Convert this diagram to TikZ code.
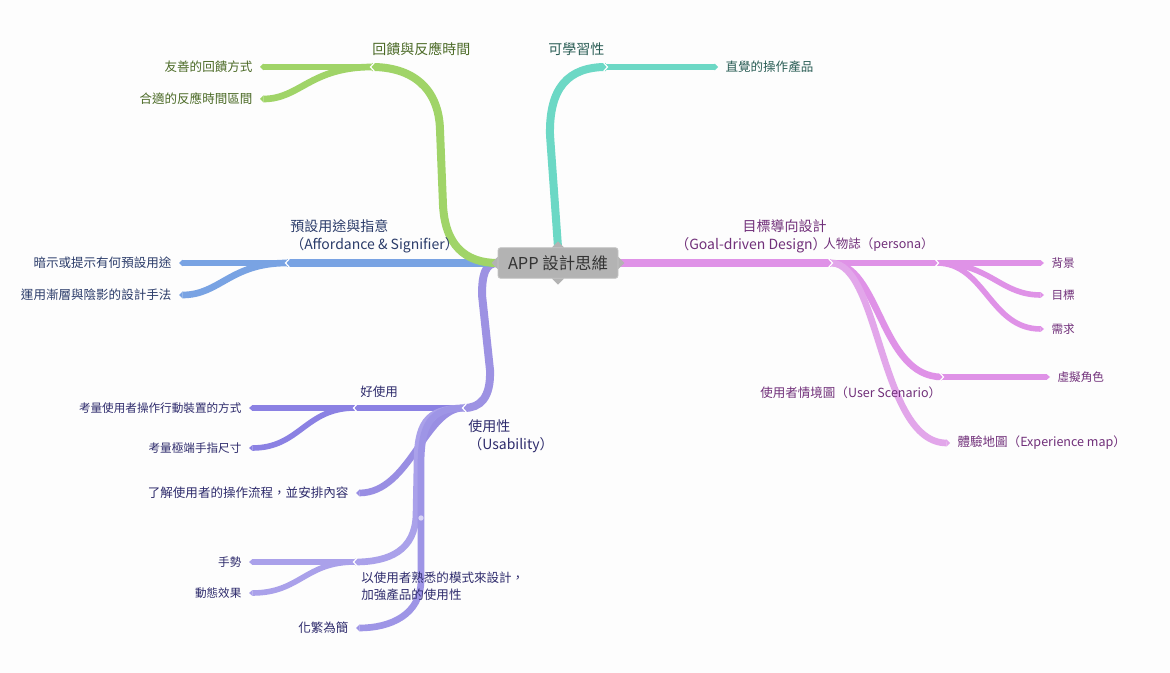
\documentclass[tikz,border=0pt]{standalone}
\usepackage{fontspec}
\newfontfamily\cjk{Noto Sans CJK TC}
\usetikzlibrary{arrows.meta}
\definecolor{bgc}{HTML}{FDFDFD}
\definecolor{rootc}{HTML}{B3B3B3}
\definecolor{rootline}{HTML}{C6C6C6}
\definecolor{greenc}{HTML}{A0D468}
\definecolor{tealc}{HTML}{6CD8C5}
\definecolor{bluec}{HTML}{79A3E3}
\definecolor{purpa}{HTML}{9D92E3}
\definecolor{purpb}{HTML}{8B81E3}
\definecolor{purpc}{HTML}{998EE3}
\definecolor{purpd}{HTML}{AAA1EA}
\definecolor{purpe}{HTML}{9E95E6}
\definecolor{pinka}{HTML}{DF92E7}
\definecolor{pinkb}{HTML}{E2A6EA}
\definecolor{greent}{HTML}{4B6A26}
\definecolor{tealt}{HTML}{2B5E56}
\definecolor{bluet}{HTML}{2B3C6A}
\definecolor{purpt}{HTML}{2E2B6C}
\definecolor{pinkt}{HTML}{71307A}
\pgfdeclarelayer{bg}
\pgfsetlayers{bg,main}

\tikzset{
  root/.style={fill=rootc, draw=rootline, line width=0.6pt, rounded corners=2pt,
    minimum width=90pt, minimum height=23pt, inner sep=0pt, text=black!80,
    font=\cjk\fontsize{12.3}{14}\selectfont},
  lbl/.style={inner sep=0pt, anchor=west, font=\cjk\fontsize{10.5}{13.5}\selectfont},
  sublbl/.style={lbl, font=\cjk\fontsize{9.4}{12.8}\selectfont},
  leafl/.style={anchor=east, inner ysep=0pt, inner xsep=5.5pt, font=\cjk\fontsize{9.4}{12.8}\selectfont},
  leafr/.style={leafl, anchor=west},
  tinyl/.style={leafl, font=\cjk\fontsize{8.7}{12}\selectfont},
  tinyr/.style={tinyl, anchor=west},
  stem/.style={line width=6pt},
  limb/.style={line width=5pt},
  twig/.style={line width=4.2pt},
  leafend/.style={-{Triangle[length=2.5pt, width=0pt 1, line width=0pt]}},
  notchl/.pic={\draw[white, line width=0.9pt] (2.5,-4.5) -- (-1.5,0) -- (2.5,4.5);},
  notchr/.pic={\draw[white, line width=0.9pt] (-2.5,-4.5) -- (1.5,0) -- (-2.5,4.5);}
}

\begin{document}
\begin{tikzpicture}[x=0.75pt, y=-0.75pt]
\useasboundingbox (0,0) rectangle (1170,673);

\node[root] (root) at (558,263) {APP 設計思維};

% joints
\coordinate (fb) at (372,67);
\coordinate (learn) at (606,67);
\coordinate (aff) at (287,263);
\coordinate (use) at (464,408);
\coordinate (goal) at (831,263);
\coordinate (good) at (355,408);
\coordinate (fam) at (355,562);
\coordinate (persona) at (937,263);
\coordinate (scen) at (942,377);

% branch labels
\node[lbl, text=greent] (fbl) at (372,49) {回饋與反應時間};
\node[lbl, text=tealt] (learnl) at (548,49) {可學習性};
\node[lbl, text=bluet, align=left] (affl) at (290,236) {預設用途與指意\\（Affordance \& Signifier）};
\node[lbl, text=purpt, align=left] (usel) at (468,436) {使用性\\（Usability）};
\node[lbl, text=pinkt, align=right, anchor=east] (goall) at (827,236) {目標導向設計\\（Goal-driven Design）};
\node[sublbl, text=pinkt] (personal) at (823,245) {人物誌（persona）};
\node[sublbl, text=pinkt] (scenl) at (760,393) {使用者情境圖（User Scenario）};
\node[sublbl, text=purpt] (goodl) at (360,392) {好使用};
\node[sublbl, text=purpt, align=left] (faml) at (361,586) {以使用者熟悉的模式來設計，\\加強產品的使用性};

% leaves
\node[leafl, text=greent] (fb1) at (260,67) {友善的回饋方式};
\node[leafl, text=greent] (fb2) at (260,99) {合適的反應時間區間};
\node[leafr, text=tealt] (lrn1) at (718,67) {直覺的操作產品};
\node[leafl, text=bluet] (aff1) at (179,263) {暗示或提示有何預設用途};
\node[leafl, text=bluet] (aff2) at (179,295) {運用漸層與陰影的設計手法};
\node[tinyl, text=purpt] (gd1) at (249,408) {考量使用者操作行動裝置的方式};
\node[tinyl, text=purpt] (gd2) at (249,448) {考量極端手指尺寸};
\node[leafl, text=purpt] (flow) at (356,493) {了解使用者的操作流程，並安排內容};
\node[tinyl, text=purpt] (fm1) at (249,562) {手勢};
\node[tinyl, text=purpt] (fm2) at (249,593) {動態效果};
\node[leafl, text=purpt] (simple) at (356,628) {化繁為簡};
\node[tinyr, text=pinkt] (p1) at (1044,263) {背景};
\node[tinyr, text=pinkt] (p2) at (1044,295) {目標};
\node[tinyr, text=pinkt] (p3) at (1044,329) {需求};
\node[tinyr, text=pinkt] (sc1) at (1050,377) {虛擬角色};
\node[leafr, text=pinkt] (exp) at (950,443) {體驗地圖（Experience map）};

\begin{pgfonlayer}{bg}
\fill[bgc] (0,0) rectangle (1170,673);

% usability
\draw[stem, purpa] (root.west) .. controls (485,263) and (482,275) .. (482,295) -- (490,370) .. controls (491,398) and (480,408) .. (use);
\draw[limb, purpb] (use) -- (good);
\draw[twig, leafend, purpb] (good) -- (gd1.east);
\draw[twig, leafend, purpb] (good) .. controls (305,408) and (300,448) .. (gd2.east);
\draw[limb, leafend, purpc] (use) .. controls (425,408) and (410,493) .. (flow.east);
\draw[limb, purpd] (use) .. controls (425,408) and (417,425) .. (417,465) -- (416,515) .. controls (415,550) and (390,562) .. (fam);
\draw[limb, leafend, purpe] (use) .. controls (430,408) and (421,425) .. (421,465) -- (421,580) .. controls (421,615) and (390,628) .. (simple.east);
\draw[twig, leafend, purpd] (fam) -- (fm1.east);
\draw[twig, leafend, purpd] (fam) .. controls (305,562) and (300,593) .. (fm2.east);
\fill[purpd!45!white] (421,518) circle (2pt);

% affordance
\draw[stem, bluec] (root.west) -- (aff);
\draw[limb, leafend, bluec] (aff) -- (aff1.east);
\draw[limb, leafend, bluec] (aff) .. controls (230,263) and (220,295) .. (aff2.east);

% feedback
\draw[stem, greenc] (root.west) .. controls (465,263) and (445,245) .. (443,205) -- (440,130) .. controls (439,88) and (412,67) .. (fb);
\draw[limb, leafend, greenc] (fb) -- (fb1.east);
\draw[limb, leafend, greenc] (fb) .. controls (310,67) and (300,99) .. (fb2.east);

% learnability
\draw[stem, tealc] (root.north) -- (550,135) .. controls (549,88) and (568,67) .. (learn);
\draw[limb, leafend, tealc] (learn) -- (lrn1.west);

% goal-driven
\draw[stem, pinka] (root.east) -- (goal);
\draw[limb, pinka] (goal) -- (persona);
\draw[twig, leafend, pinka] (persona) -- (p1.west);
\draw[twig, leafend, pinka] (persona) .. controls (990,263) and (1000,295) .. (p2.west);
\draw[twig, leafend, pinka] (persona) .. controls (985,263) and (990,329) .. (p3.west);
\draw[limb, pinka] (goal) .. controls (880,263) and (880,377) .. (scen);
\draw[twig, leafend, pinka] (scen) -- (sc1.west);
\draw[limb, leafend, pinkb] (goal) .. controls (880,263) and (880,443) .. (exp.west);

\foreach \j in {fb,aff,use,good,fam} \pic at (\j) {notchl};
\foreach \j in {learn,goal,persona,scen} \pic at (\j) {notchr};

\foreach \a in {north,south,east,west}
  \fill[rootc] (root.\a) ++(0,-6) -- ++(6,6) -- ++(-6,6) -- ++(-6,-6) -- cycle;
\end{pgfonlayer}
\end{tikzpicture}
\end{document}
